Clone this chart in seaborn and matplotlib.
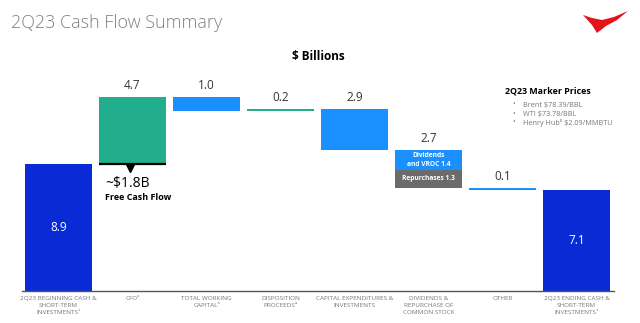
import matplotlib
matplotlib.use("Agg")
import matplotlib.pyplot as plt
import seaborn as sns
import numpy as np
import pandas as pd
from matplotlib.patches import Polygon

# ---------------- data ----------------
categories = [
    "2Q23 BEGINNING CASH &\nSHORT-TERM\nINVESTMENTS¹",
    "CFO²",
    "TOTAL WORKING\nCAPITAL³",
    "DISPOSITION\nPROCEEDS⁴",
    "CAPITAL EXPENDITURES &\nINVESTMENTS",
    "DIVIDENDS &\nREPURCHASE OF\nCOMMON STOCK",
    "OTHER",
    "2Q23 ENDING CASH &\nSHORT-TERM\nINVESTMENTS¹",
]
changes = [8.9, 4.7, -1.0, 0.2, -2.9, -2.7, -0.1, 7.1]
kinds = ["total", "inflow", "outflow", "inflow", "outflow", "outflow", "outflow", "total"]
value_labels = ["8.9", "4.7", "1.0", "0.2", "2.9", "2.7", "0.1", "7.1"]
dividends_vroc = 1.4
repurchases = 1.3
free_cash_flow = "~$1.8B"
marker_prices = ["Brent $78.39/BBL", "WTI $73.78/BBL", "Henry Hub⁵ $2.09/MMBTU"]

colors = {"total": "#0A2AD6", "inflow": "#22AE8C", "outflow": "#1A8FFF"}
gray_seg = "#6B6B6B"

# ---------------- waterfall geometry ----------------
bottoms, heights = [], []
level = 0.0
for c, k in zip(changes, kinds):
    if k == "total":
        bottoms.append(0.0); heights.append(c); level = c
    elif c >= 0:
        bottoms.append(level); heights.append(c); level += c
    else:
        level += c
        bottoms.append(level); heights.append(-c)
df = pd.DataFrame({"cat": categories, "bottom": bottoms, "height": heights, "kind": kinds})

# ---------------- figure ----------------
sns.set_theme(style="white")
plt.rcParams["font.family"] = ["Open Sans", "DejaVu Sans"]
W, H = 640, 323
fig = plt.figure(figsize=(6.4, 3.23), dpi=100)
ppu = 14.21
ymax = 16.0
ax = fig.add_axes([21.5 / W, (H - 290.5) / H, 592 / W, ymax * ppu / H])

bw = 67 / 74
sns.barplot(data=df, x="cat", y="height", bottom=df["bottom"].values, order=categories,
            color=colors["total"], width=bw, saturation=1, linewidth=0, errorbar=None, ax=ax)
for p, k in zip(ax.patches, kinds):
    p.set_facecolor(colors[k])

# repurchases segment (lower part of dividends bar)
div_idx = 5
seg = pd.DataFrame({"cat": [categories[div_idx]], "height": [repurchases]})
sns.barplot(data=seg, x="cat", y="height", bottom=[bottoms[div_idx]], order=categories,
            color=gray_seg, width=bw, saturation=1, linewidth=0, errorbar=None, ax=ax)

ax.set_xlim(-0.5, 7.5)
ax.set_ylim(0, ymax)
ax.set_xlabel(""); ax.set_ylabel("")
ax.set_yticks([])
for s in ["top", "right", "left"]:
    ax.spines[s].set_visible(False)
ax.spines["bottom"].set_color("#555555")
ax.spines["bottom"].set_linewidth(1.0)
ax.tick_params(axis="x", length=0, pad=4, labelsize=4.6, labelcolor="#777777")
for t in ax.get_xticklabels():
    t.set_linespacing(1.55)

# value labels
for i, (b, h, lab, k) in enumerate(zip(bottoms, heights, value_labels, kinds)):
    if k == "total":
        ax.text(i, b + h / 2, lab, ha="center", va="center", color="white", fontsize=8.5)
    else:
        ax.text(i, b + h + 0.35, lab, ha="center", va="bottom", color="#333333", fontsize=8.5)

# dividends inner labels
db = bottoms[div_idx]
ax.text(div_idx, db + repurchases + dividends_vroc / 2, "Dividends\nand VROC 1.4",
        ha="center", va="center", color="white", fontsize=4.8, fontweight="bold", linespacing=1.3)
ax.text(div_idx, db + repurchases / 2, "Repurchases 1.3",
        ha="center", va="center", color="white", fontsize=4.8, fontweight="bold")

# free cash flow bracket
cfo_b = bottoms[1]
ax.plot([1 - bw / 2, 1 + bw / 2], [cfo_b, cfo_b], color="black", lw=1.6, solid_capstyle="butt")
ax.plot([0.97], [cfo_b - 0.25], marker="v", color="black", markersize=6)

def ftext(x, y, s, **kw):
    fig.text(x / W, 1 - y / H, s, **kw)

ftext(105, 184, free_cash_flow, ha="left", va="center", fontsize=10, color="black")
ftext(105, 197, "Free Cash Flow", ha="left", va="center", fontsize=6.5, color="black", fontweight="bold")

# title & header
ftext(11, 23, "2Q23 Cash Flow Summary", ha="left", va="center", fontsize=13,
      color="#808080", fontweight="light")
ftext(318, 57, "$ Billions", ha="center", va="center", fontsize=8.5, fontweight="bold", color="black")

# marker prices
ftext(505, 91, "2Q23 Marker Prices", ha="left", va="center", fontsize=6.4, fontweight="bold", color="black")
for j, s in enumerate(marker_prices):
    y = 105 + 9 * j
    ftext(512, y, "•", ha="left", va="center", fontsize=5, color="#777777")
    ftext(523, y, s, ha="left", va="center", fontsize=5.2, color="#777777")

# logo
pts = [(583, 15), (592, 18), (602, 20), (614, 17), (628, 11), (617, 20), (606, 26), (597, 33),
       (592, 25)]
logo = Polygon([(x / W, 1 - y / H) for x, y in pts], closed=True, transform=fig.transFigure,
               facecolor="#E3121B", edgecolor="none")
fig.patches.append(logo)

fig.savefig("out.png", dpi=100)
